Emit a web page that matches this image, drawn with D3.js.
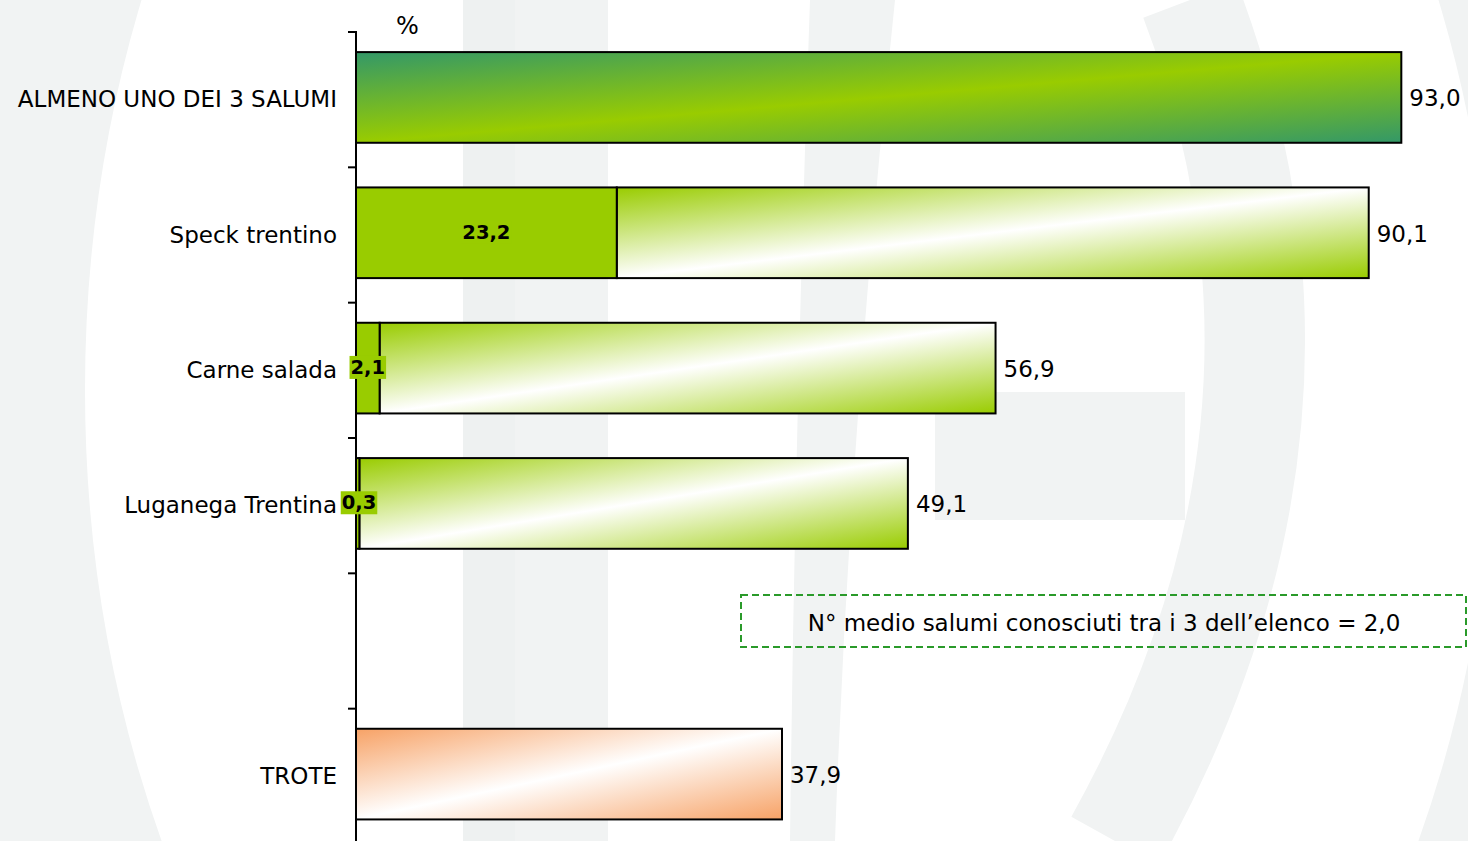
<!DOCTYPE html>
<html>
<head>
<meta charset="utf-8">
<script src="https://cdn.jsdelivr.net/npm/d3@7"></script>
<style>
  body { margin: 0; background: #fff; }
  svg { display: block; font-family: "DejaVu Sans", sans-serif; }
</style>
</head>
<body>
<div id="chart"></div>
<script>
// Chart data
var categories = ['ALMENO UNO DEI 3 SALUMI', 'Speck trentino', 'Carne salada', 'Luganega Trentina', '', 'TROTE'];
var totalValues = [93.0, 90.1, 56.9, 49.1, null, 37.9];
var innerValues = [null, 23.2, 2.1, 0.3, null, null];
var barKind = ['all', 'green', 'green', 'green', null, 'orange'];
var unitLabel = '%';
var noteText = 'N° medio salumi conosciuti tra i 3 dell\u2019elenco = 2,0';

var fmt = function(v) { return v.toFixed(1).replace('.', ','); };

var W = 1468, H = 841;
var svg = d3.select('#chart')
    .append('svg')
    .attr('width', W)
    .attr('height', H);

// faint logo watermark in the background
var wmColor = '#f1f3f3';
var wm = svg.append('g').attr('fill', wmColor).attr('stroke', 'none');
wm.append('ellipse')
    .attr('cx', 790).attr('cy', 390).attr('rx', 830).attr('ry', 1125)
    .attr('fill', 'none').attr('stroke', wmColor).attr('stroke-width', 250);
wm.append('rect').attr('x', 463).attr('y', 0).attr('width', 145).attr('height', H);
wm.append('rect').attr('x', 463).attr('y', 0).attr('width', 52).attr('height', H).attr('fill', '#eef1f1');
wm.append('path').attr('d', 'M810,0 L895,0 Q850,420 835,841 L790,841 Q795,420 810,0 Z');
wm.append('rect').attr('x', 935).attr('y', 392).attr('width', 250).attr('height', 128);
wm.append('path')
    .attr('d', 'M1190,0 Q1350,420 1115,841')
    .attr('fill', 'none').attr('stroke', wmColor).attr('stroke-width', 100);

// gradients
var defs = svg.append('defs');
function addGrad(id, edge, mid) {
    var g = defs.append('linearGradient').attr('id', id)
        .attr('x1', 0).attr('y1', 0).attr('x2', 1).attr('y2', 1);
    g.append('stop').attr('offset', '0%').attr('stop-color', edge);
    g.append('stop').attr('offset', '50%').attr('stop-color', mid);
    g.append('stop').attr('offset', '100%').attr('stop-color', edge);
}
addGrad('grad-all', '#339868', '#99cc00');
addGrad('grad-green', '#99cc00', '#ffffff');
addGrad('grad-orange', '#f7a266', '#ffffff');

// scales
var x = d3.scaleLinear().domain([0, 100]).range([356, 1480]);
var y = d3.scaleBand().domain(categories).range([32, 844])
    .paddingInner(0.33).paddingOuter(0.165).align(0.45);
var step = y.step();
var mid = function(d) { return y(d.cat) + y.bandwidth() / 2; };

var data = categories.map(function(c, i) {
    return { cat: c, total: totalValues[i], inner: innerValues[i], kind: barKind[i] };
});
var bars = data.filter(function(d) { return d.total !== null; });

// outer (gradient) bars
svg.append('g').selectAll('rect')
    .data(bars)
    .enter().append('rect')
    .attr('x', function(d) { return x(d.inner || 0); })
    .attr('y', function(d) { return y(d.cat); })
    .attr('width', function(d) { return x(d.total) - x(d.inner || 0); })
    .attr('height', y.bandwidth())
    .attr('fill', function(d) { return 'url(#grad-' + d.kind + ')'; })
    .attr('stroke', '#000')
    .attr('stroke-width', 2);

// inner solid segments
var inner = bars.filter(function(d) { return d.inner !== null; });
svg.append('g').selectAll('rect')
    .data(inner)
    .enter().append('rect')
    .attr('x', x(0))
    .attr('y', function(d) { return y(d.cat); })
    .attr('width', function(d) { return x(d.inner) - x(0); })
    .attr('height', y.bandwidth())
    .attr('fill', '#99cc00')
    .attr('stroke', '#000')
    .attr('stroke-width', 2);

// axis line and ticks at band boundaries
var axis = svg.append('g').attr('stroke', '#000').attr('stroke-width', 2);
axis.append('line').attr('x1', x(0)).attr('x2', x(0)).attr('y1', 31).attr('y2', H);
d3.range(categories.length + 1).forEach(function(i) {
    var yy = y.range()[0] + i * step;
    axis.append('line').attr('x1', x(0) - 8).attr('x2', x(0)).attr('y1', yy).attr('y2', yy);
});

// category labels
svg.append('g').selectAll('text')
    .data(data)
    .enter().append('text')
    .attr('x', 337)
    .attr('y', function(d) { return mid(d) + 2; })
    .attr('dy', '0.35em')
    .attr('text-anchor', 'end')
    .attr('font-size', 23)
    .attr('fill', '#000')
    .text(function(d) { return d.cat; });

// total value labels
svg.append('g').selectAll('text')
    .data(bars)
    .enter().append('text')
    .attr('x', function(d) { return x(d.total) + 8; })
    .attr('y', function(d) { return mid(d) + 1; })
    .attr('dy', '0.35em')
    .attr('font-size', 23)
    .attr('fill', '#000')
    .text(function(d) { return fmt(d.total); });

// inner value labels, bold with green background
var il = svg.append('g').selectAll('g')
    .data(inner)
    .enter().append('g');
il.append('text')
    .attr('x', function(d) { return Math.max((x(0) + x(d.inner)) / 2, 359); })
    .attr('y', function(d) { return mid(d) - 1; })
    .attr('dy', '0.35em')
    .attr('text-anchor', 'middle')
    .attr('font-size', 19.5)
    .attr('font-weight', 'bold')
    .attr('fill', '#000')
    .text(function(d) { return fmt(d.inner); });
il.each(function() {
    var g = d3.select(this);
    var b = g.select('text').node().getBBox();
    g.insert('rect', 'text')
        .attr('x', b.x - 1).attr('y', b.y)
        .attr('width', b.width + 2).attr('height', b.height)
        .attr('fill', '#99cc00');
});

// unit label
svg.append('text')
    .attr('x', 396).attr('y', 34)
    .attr('font-size', 24)
    .text(unitLabel);

// note box
svg.append('rect')
    .attr('x', 741).attr('y', 595).attr('width', 725).attr('height', 52)
    .attr('fill', 'none')
    .attr('stroke', '#2a9a2a')
    .attr('stroke-width', 2)
    .attr('stroke-dasharray', '7,4');
svg.append('text')
    .attr('x', 1104).attr('y', 623)
    .attr('dy', '0.35em')
    .attr('text-anchor', 'middle')
    .attr('font-size', 23)
    .text(noteText);
</script>
</body>
</html>
